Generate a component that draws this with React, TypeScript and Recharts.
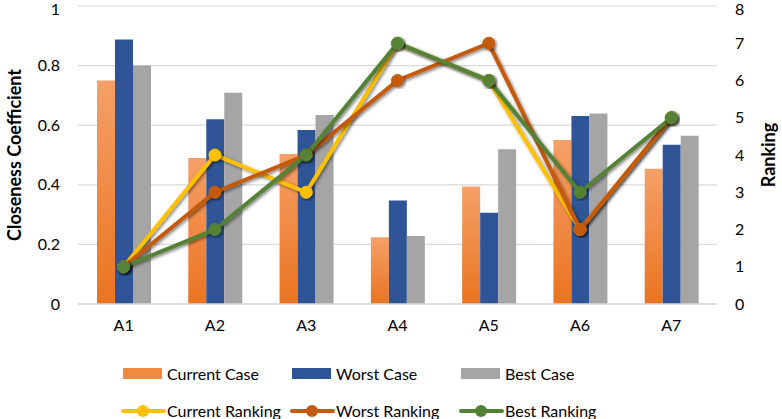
import React from "react";
import {
  ComposedChart,
  Bar,
  Line,
  XAxis,
  YAxis,
  CartesianGrid,
  Legend,
} from "recharts";

const categories = ["A1", "A2", "A3", "A4", "A5", "A6", "A7"];
const currentCase = [0.75, 0.49, 0.503, 0.224, 0.394, 0.55, 0.454];
const worstCase = [0.888, 0.62, 0.584, 0.347, 0.306, 0.631, 0.534];
const bestCase = [0.8, 0.709, 0.634, 0.228, 0.519, 0.639, 0.565];
const currentRanking = [1, 4, 3, 7, 6, 2, 5];
const worstRanking = [1, 3, 4, 6, 7, 2, 5];
const bestRanking = [1, 2, 4, 7, 6, 3, 5];
const leftTicks = [0, 0.2, 0.4, 0.6, 0.8, 1];
const rightTicks = [0, 1, 2, 3, 4, 5, 6, 7, 8];

const data = categories.map((name, i) => ({
  name,
  currentCase: currentCase[i],
  worstCase: worstCase[i],
  bestCase: bestCase[i],
  currentRanking: currentRanking[i],
  worstRanking: worstRanking[i],
  bestRanking: bestRanking[i],
}));

const FONT = "Lato, 'Open Sans', sans-serif";

const barItems = [
  { label: "Current Case", color: "#f08a3e" },
  { label: "Worst Case", color: "#2f5597" },
  { label: "Best Case", color: "#a5a5a5" },
];
const lineItems = [
  { label: "Current Ranking", color: "#ffc000" },
  { label: "Worst Ranking", color: "#c55a11" },
  { label: "Best Ranking", color: "#548235" },
];

function LegendBox() {
  const cell: React.CSSProperties = {
    width: 169,
    display: "flex",
    alignItems: "center",
    fontSize: 16,
    color: "#000",
    fontFamily: FONT,
    whiteSpace: "nowrap",
  };
  return (
    <div>
      <div style={{ display: "flex", height: 37, alignItems: "center" }}>
        {barItems.map((it) => (
          <div key={it.label} style={cell}>
            <div
              style={{
                width: 39,
                height: 11,
                background: it.color,
                marginLeft: 2,
                marginRight: 5,
              }}
            />
            {it.label}
          </div>
        ))}
      </div>
      <div style={{ display: "flex", height: 37, alignItems: "center" }}>
        {lineItems.map((it) => (
          <div key={it.label} style={cell}>
            <svg width={45} height={14} style={{ marginRight: 1 }}>
              <line x1={2} y1={7} x2={43} y2={7} stroke={it.color} strokeWidth={4} strokeLinecap="round" />
              <circle cx={22} cy={7} r={6} fill={it.color} />
            </svg>
            {it.label}
          </div>
        ))}
      </div>
    </div>
  );
}

export default function App() {
  return (
    <div style={{ position: "absolute", left: 0, top: 0 }}>
      <ComposedChart
        width={782}
        height={419}
        data={data}
        margin={{ top: 6, right: 0, bottom: 85, left: 0 }}
        barGap={0}
        barCategoryGap="20%"
      >
        <defs>
          <linearGradient id="orangeGrad" x1="0" y1="0" x2="0" y2="1">
            <stop offset="0%" stopColor="#f5a068" />
            <stop offset="100%" stopColor="#ea7420" />
          </linearGradient>
          <filter id="shadow" x="-10%" y="-10%" width="130%" height="130%">
            <feDropShadow dx="1.5" dy="1.5" stdDeviation="1.5" floodOpacity="0.5" />
          </filter>
        </defs>
        <CartesianGrid
          yAxisId="left"
          vertical={false}
          stroke="#d9d9d9"
          strokeWidth={1.2}
        />
        <XAxis
          dataKey="name"
          axisLine={{ stroke: "#d9d9d9", strokeWidth: 1.5 }}
          tickLine={false}
          tick={{ fontSize: 16, fill: "#000", fontFamily: FONT }}
          tickMargin={10}
          height={30}
        />
        <YAxis
          yAxisId="left"
          domain={[0, 1]}
          ticks={leftTicks}
          axisLine={false}
          tickLine={false}
          tickSize={0}
          tickMargin={18}
          width={78}
          tick={{ fontSize: 16, fill: "#000", fontFamily: FONT }}
          label={{
            value: "Closeness Coefficient",
            angle: -90,
            position: "insideLeft",
            offset: 15,
            style: {
              fontSize: 18,
              fontWeight: 700,
              fill: "#000",
              fontFamily: FONT,
              textAnchor: "middle",
            },
          }}
        />
        <YAxis
          yAxisId="right"
          orientation="right"
          domain={[0, 8]}
          ticks={rightTicks}
          axisLine={false}
          tickLine={false}
          tickSize={0}
          tickMargin={18}
          width={65}
          tick={{ fontSize: 16, fill: "#000", fontFamily: FONT }}
          label={{
            value: "Ranking",
            angle: -90,
            position: "insideRight",
            offset: 13,
            style: {
              fontSize: 18,
              fontWeight: 700,
              fill: "#000",
              fontFamily: FONT,
              textAnchor: "middle",
            },
          }}
        />
        <Legend
          layout="horizontal"
          verticalAlign="middle"
          align="center"
          wrapperStyle={{ left: 121, top: 355, width: 520 }}
          content={() => <LegendBox />}
        />
        <Bar yAxisId="left" dataKey="currentCase" fill="url(#orangeGrad)" barSize={18} isAnimationActive={false} />
        <Bar yAxisId="left" dataKey="worstCase" fill="#2f5597" barSize={18} isAnimationActive={false} />
        <Bar yAxisId="left" dataKey="bestCase" fill="#a5a5a5" barSize={18} isAnimationActive={false} />
        <Line
          yAxisId="right"
          dataKey="currentRanking"
          stroke="#ffc000"
          strokeWidth={4}
          dot={{ r: 6, fill: "#ffc000", stroke: "#ffc000", strokeWidth: 1 }}
          filter="url(#shadow)"
          isAnimationActive={false}
        />
        <Line
          yAxisId="right"
          dataKey="worstRanking"
          stroke="#c55a11"
          strokeWidth={4}
          dot={{ r: 6, fill: "#c55a11", stroke: "#c55a11", strokeWidth: 1 }}
          filter="url(#shadow)"
          isAnimationActive={false}
        />
        <Line
          yAxisId="right"
          dataKey="bestRanking"
          stroke="#548235"
          strokeWidth={4}
          dot={{ r: 6, fill: "#548235", stroke: "#548235", strokeWidth: 1 }}
          filter="url(#shadow)"
          isAnimationActive={false}
        />
      </ComposedChart>
    </div>
  );
}
